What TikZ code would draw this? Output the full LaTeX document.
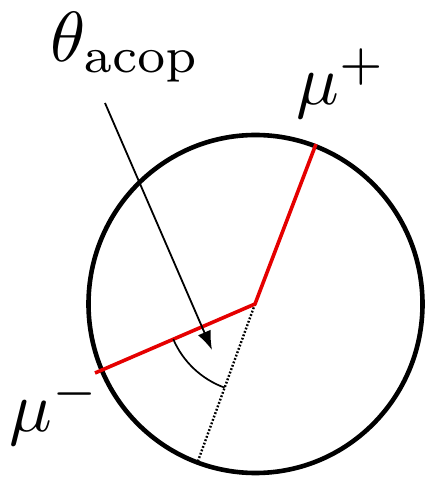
\documentclass[tikz,border=0pt]{standalone}
\usetikzlibrary{arrows.meta}
\tikzset{
  rim/.style={line width=4.6pt},
  track/.style={draw=red!90!black, line width=3.6pt},
  guide/.style={line width=2.4pt, dash pattern=on 1.8pt off 1.8pt},
  pointer/.style={line width=1.8pt, -{Latex[length=19pt,width=14pt]}},
  anglearc/.style={line width=1.7pt},
  lbl/.style={inner sep=0pt, anchor=base west, scale=7.1}
}
\begin{document}
\begin{tikzpicture}[x=1pt,y=1pt]
\useasboundingbox (0,0) rectangle (426,477);
\coordinate (O) at (255.5,173);
\coordinate (V) at (255,173);
\coordinate (P) at (316,333);
\coordinate (M) at (95,104);
\coordinate (D) at (198,16);
\coordinate (A0) at (105,374);
\coordinate (A1) at (212,127);
\draw[rim] (O) ellipse [x radius=167, y radius=169];
\draw[guide] (V) -- (D);
\draw[track, line join=miter] (M) -- (V) -- (P);
\draw[anglearc] ([shift={(203.3:89)}]V) arc[start angle=203.3, end angle=250, radius=89];
\draw[pointer] (A0) -- (A1);
\node[lbl] (theta) at (49,415) {$\theta_{\mathrm{acop}}$};
\node[lbl] (mup) at (295,372) {$\mu^+$};
\node[lbl] (mum) at (8,45) {$\mu^-$};
\end{tikzpicture}
\end{document}
